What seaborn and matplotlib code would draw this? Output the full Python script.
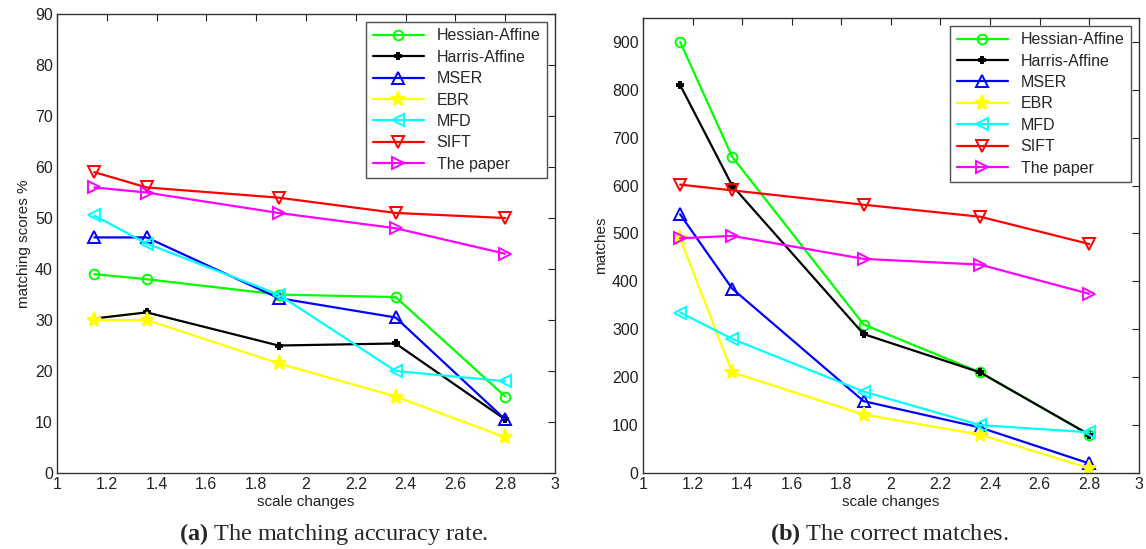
import pandas as pd
import matplotlib.pyplot as plt
import seaborn as sns

# data
scale = [1.15, 1.36, 1.89, 2.36, 2.8]
methods = ["Hessian-Affine", "Harris-Affine", "MSER", "EBR", "MFD", "SIFT", "The paper"]

score_hessian = [39, 38, 35, 34.5, 15]
score_harris = [30.3, 31.5, 25, 25.4, 10.5]
score_mser = [46.2, 46.2, 34.3, 30.5, 10.5]
score_ebr = [30, 30, 21.5, 15, 7]
score_mfd = [50.5, 45, 35, 20, 18]
score_sift = [59, 56, 54, 51, 50]
score_paper = [56, 55, 51, 48, 43]

match_hessian = [900, 660, 310, 210, 80]
match_harris = [810, 600, 290, 210, 80]
match_mser = [540, 385, 150, 95, 20]
match_ebr = [490, 210, 122, 80, 10]
match_mfd = [335, 280, 170, 100, 85]
match_sift = [602, 590, 560, 535, 478]
match_paper = [490, 495, 447, 435, 374]

scores = [score_hessian, score_harris, score_mser, score_ebr, score_mfd, score_sift, score_paper]
matches = [match_hessian, match_harris, match_mser, match_ebr, match_mfd, match_sift, match_paper]

colors = ["#00FF00", "#000000", "#0000FF", "#FFFF00", "#00FFFF", "#FF0000", "#FF00FF"]
markers = ["o", "P", "^", "*", "<", "v", ">"]
msizes = [7, 5, 8, 11, 8, 8, 8]

sns.set_style("white")
plt.rcParams['font.family'] = ['Liberation Sans', 'DejaVu Sans']
plt.rcParams['mathtext.fontset'] = 'custom'
plt.rcParams['mathtext.rm'] = 'Liberation Serif'
plt.rcParams['mathtext.bf'] = 'Liberation Serif:bold'

fig = plt.figure(figsize=(11.46, 5.49), dpi=100)
ax1 = fig.add_axes([0.0497, 0.1384, 0.4346, 0.836])
ax2 = fig.add_axes([0.561, 0.1384, 0.4328, 0.829])


def draw(ax, series, ylim, yticks, ylabel):
    for name, vals, c, m, s in zip(methods, series, colors, markers, msizes):
        df = pd.DataFrame({"x": scale, "y": vals})
        filled = m in ("P", "*")
        sns.lineplot(data=df, x="x", y="y", ax=ax, color=c, lw=1.6, marker=m,
                     markersize=s, markeredgecolor=c,
                     markerfacecolor=c if filled else "none",
                     markeredgewidth=1.4, label=name)
    ax.set_xlim(1, 3)
    ax.set_ylim(*ylim)
    ax.set_xticks([1, 1.2, 1.4, 1.6, 1.8, 2, 2.2, 2.4, 2.6, 2.8, 3])
    ax.set_xticklabels(["1", "1.2", "1.4", "1.6", "1.8", "2", "2.2", "2.4", "2.6", "2.8", "3"])
    ax.set_yticks(yticks)
    ax.tick_params(direction="in", top=True, right=True, length=5, width=0.8,
                   labelsize=11.5, colors="#222222", pad=3)
    for sp in ax.spines.values():
        sp.set_color("#333333")
        sp.set_linewidth(1.0)
    ax.set_xlabel("scale changes", fontsize=11, color="#222222", labelpad=2)
    ax.set_ylabel(ylabel, fontsize=11, color="#222222", labelpad=3)
    leg = ax.legend(loc="upper right", fontsize=11.5, handlelength=3.2,
                    frameon=True, fancybox=False, borderpad=0.4,
                    labelspacing=0.4, borderaxespad=0.5)
    leg.get_frame().set_edgecolor("#222222")
    leg.get_frame().set_linewidth(1.0)


draw(ax1, scores, (0, 90), range(0, 91, 10), "matching scores %")
draw(ax2, matches, (0, 950), range(0, 901, 100), "matches")

fig.text(0.291, 0.016, r"$\mathbf{(a)}$ The matching accuracy rate.", ha="center",
         fontsize=17.5, family="Liberation Serif")
fig.text(0.776, 0.016, r"$\mathbf{(b)}$ The correct matches.", ha="center",
         fontsize=17.5, family="Liberation Serif")

fig.savefig("out.png", dpi=100)
